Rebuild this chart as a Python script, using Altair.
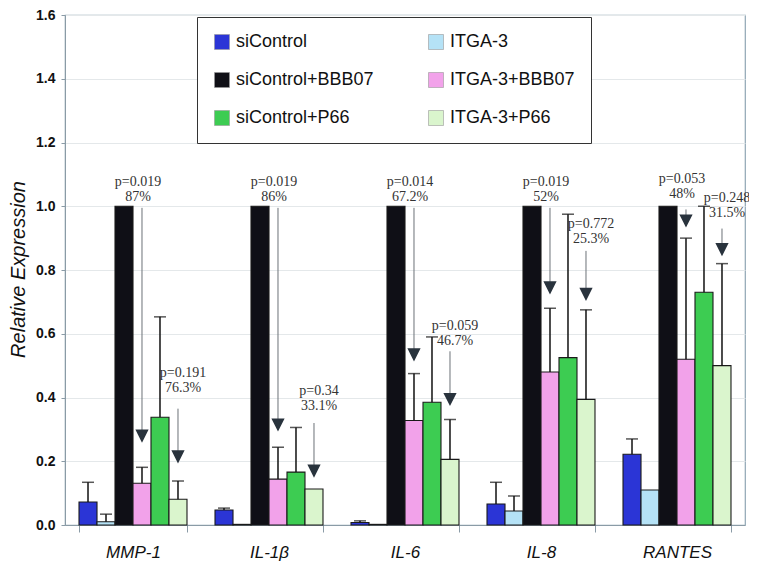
import altair as alt
import pandas as pd

genes = ["MMP-1", "IL-1β", "IL-6", "IL-8", "RANTES"]
series = ["siControl", "ITGA-3", "siControl+BBB07", "ITGA-3+BBB07", "siControl+P66", "ITGA-3+P66"]
colors = ["#2b35d6", "#b5e2f6", "#0f0f16", "#f2a2ea", "#3dcc52", "#daf5cd"]

val_sicontrol = [0.072, 0.047, 0.008, 0.066, 0.222]
val_itga3 = [0.010, 0.002, 0.002, 0.044, 0.110]
val_bbb07 = [1.0, 1.0, 1.0, 1.0, 1.0]
val_itga3_bbb07 = [0.131, 0.144, 0.328, 0.480, 0.520]
val_p66 = [0.338, 0.166, 0.385, 0.525, 0.730]
val_itga3_p66 = [0.081, 0.113, 0.206, 0.394, 0.500]

err_sicontrol = [0.134, 0.053, 0.013, 0.134, 0.270]
err_itga3 = [0.034, None, None, 0.091, None]
err_bbb07 = [None, None, None, None, None]
err_itga3_bbb07 = [0.181, 0.244, 0.475, 0.680, 0.900]
err_p66 = [0.653, 0.306, 0.590, 0.975, 1.000]
err_itga3_p66 = [0.138, None, 0.331, 0.675, 0.820]

ann_gene = genes + genes
ann_series = ["ITGA-3+BBB07"] * 5 + ["ITGA-3+P66"] * 5
ann_p = ["p=0.019", "p=0.019", "p=0.014", "p=0.019", "p=0.053",
         "p=0.191", "p=0.34", "p=0.059", "p=0.772", "p=0.248"]
ann_pct = ["87%", "86%", "67.2%", "52%", "48%",
           "76.3%", "33.1%", "46.7%", "25.3%", "31.5%"]
ann_text_y = [1.01, 1.01, 1.01, 1.01, 1.02, 0.41, 0.353, 0.56, 0.878, 0.96]
arrow_start = [0.995, 0.995, 0.995, 0.995, 0.99, 0.365, 0.32, 0.545, 0.86, 0.93]
arrow_tip = [0.265, 0.30, 0.52, 0.73, 0.94, 0.20, 0.155, 0.38, 0.71, 0.85]

all_vals = [val_sicontrol, val_itga3, val_bbb07, val_itga3_bbb07, val_p66, val_itga3_p66]
all_errs = [err_sicontrol, err_itga3, err_bbb07, err_itga3_bbb07, err_p66, err_itga3_p66]

rows = []
for s, vals, errs in zip(series, all_vals, all_errs):
    for g, v, e in zip(genes, vals, errs):
        rows.append({"gene": g, "series": s, "value": v, "err": e})
df = pd.DataFrame(rows)

ann = pd.DataFrame({
    "gene": ann_gene, "series": ann_series, "p": ann_p, "pct": ann_pct,
    "ty": ann_text_y, "a0": arrow_start, "a1": arrow_tip,
})

axis_color = "#8a9ba6"

x = alt.X("gene:N", sort=genes,
          scale=alt.Scale(domain=genes, paddingInner=0.206, paddingOuter=0.103),
          axis=alt.Axis(title=None, tickBand="extent", labelAngle=0,
                        labelFont="Liberation Sans", labelFontStyle="italic",
                        labelFontSize=17, labelColor="#111", labelPadding=12,
                        tickSize=7, tickColor=axis_color, domainColor=axis_color,
                        grid=False))
xo = alt.XOffset("series:N", sort=series,
                 scale=alt.Scale(domain=series, paddingInner=0, paddingOuter=0))

yaxis = alt.Axis(title="Relative Expression", values=[0, 0.2, 0.4, 0.6, 0.8, 1.0, 1.2, 1.4, 1.6],
                 format=".1f", labelFont="Liberation Sans", labelFontWeight="bold",
                 labelFontSize=14, labelColor="#111", labelPadding=6,
                 tickSize=4, tickColor=axis_color, domainColor=axis_color,
                 gridColor="#e4e8ea", gridWidth=1,
                 titleFont="Liberation Sans", titleFontStyle="italic",
                 titleFontWeight="normal", titleFontSize=20, titleColor="#111",
                 titleX=-41, titleY=254, titleBaseline="alphabetic", titleAngle=270)
yscale = alt.Scale(domain=[0, 1.6], nice=False)

def Y(field):
    return alt.Y(field, type="quantitative", scale=yscale, axis=yaxis)

legend = alt.Legend(title=None, orient="none", legendX=132, legendY=2, columns=2,
                    direction="horizontal",
                    symbolType="square", symbolSize=225, symbolStrokeColor="#999",
                    symbolStrokeWidth=0.6, labelFont="Liberation Sans", labelFontSize=18,
                    labelColor="#111", labelOffset=5, rowPadding=20, columnPadding=53,
                    padding=16, strokeColor="#333", fillColor="white")

bars = alt.Chart(df).mark_bar(stroke="#1a1a1a", strokeWidth=1.1).encode(
    x=x, xOffset=xo, y=Y("value"),
    color=alt.Color("series:N", sort=series,
                    scale=alt.Scale(domain=series, range=colors), legend=legend),
)

errdf = alt.Chart(df).transform_filter("isValid(datum.err)")
err_rule = errdf.mark_rule(color="#111", strokeWidth=1.5).encode(
    x=x, xOffset=xo, y=Y("value"), y2="err")
err_cap = errdf.mark_tick(color="#111", thickness=1.5, size=12).encode(
    x=x, xOffset=xo, y=Y("err"))

arrow_line = alt.Chart(ann).mark_rule(color="#6b7278", strokeWidth=1).encode(
    x=x, xOffset=xo, y=Y("a0"), y2="a1")
arrow_head = alt.Chart(ann).mark_point(
    shape="M-1,-1L1,-1L0,1Z", size=100, filled=True, fill="#29333d",
    stroke="#29333d", opacity=1, yOffset=-5).encode(
    x=x, xOffset=xo, y=Y("a1"))

def ann_text(which, dx):
    return alt.Chart(ann).transform_filter(
        "datum.series == '" + which + "'").transform_calculate(
        label="datum.p + '\\n' + datum.pct").mark_text(
        lineBreak="\n", baseline="bottom", align="center", dx=dx, dy=-14,
        font="Liberation Serif", fontSize=14, color="#333", lineHeight=15).encode(
        x=x, xOffset=xo, y=Y("ty"), text="label:N")

texts_first = ann_text("ITGA-3+BBB07", -4)
texts_second = ann_text("ITGA-3+P66", 5)

chart = alt.layer(bars, err_rule, err_cap, arrow_line, arrow_head,
                  texts_first, texts_second).properties(
    width=680, height=510,
    autosize=alt.AutoSizeParams(type="none"),
    padding={"left": 57, "top": 7, "right": 4, "bottom": 36},
).configure_view(stroke="#8fa6b4", strokeWidth=1.2)

chart.save("out.html", embed_options={"renderer": "svg", "actions": False})
